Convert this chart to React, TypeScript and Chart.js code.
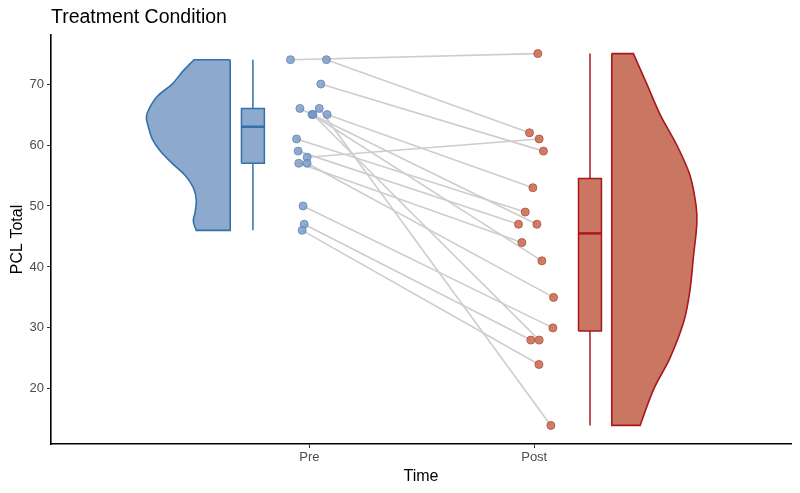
import React, { useEffect, useRef } from "react";
import { Chart, registerables } from "chart.js";

Chart.register(...registerables);

const FONT = '"Liberation Sans", Arial, Helvetica, sans-serif';

// Axis labels
const timeLabels = ["Pre", "Post"];
const timePositions = [1, 2];
const yTickValues = [20, 30, 40, 50, 60, 70];

// Paired scores (participant i: pre -> post)
const preScores = [74, 74, 70, 66, 66, 65, 65, 65, 61, 59, 58, 57, 57, 50, 47, 46];
const postScores = [75, 62, 59, 47, 14, 41, 28, 53, 49, 47, 61, 44, 35, 30, 28, 24];
// Jittered horizontal positions of each point
const preJitter = [0.916, 1.076, 1.051, 0.958, 1.044, 1.012, 1.016, 1.079, 0.943, 0.95, 0.99, 0.953, 0.99, 0.972, 0.977, 0.968];
const postJitter = [2.016, 1.979, 2.041, 2.012, 2.074, 2.034, 2.022, 1.994, 1.96, 1.93, 2.022, 1.945, 2.086, 2.083, 1.985, 2.021];

// Half-violin outlines (density width at each score level, in x units)
const preViolinLevels = [74, 72, 70, 68, 66, 64.5, 63, 61, 59, 57, 55, 53, 51, 49, 47.5, 46];
const preViolinWidths = [0.161, 0.213, 0.258, 0.324, 0.36, 0.373, 0.364, 0.347, 0.311, 0.258, 0.2, 0.164, 0.151, 0.156, 0.164, 0.151];
const postViolinLevels = [75, 70, 65, 60, 55, 50, 47, 42, 36, 31, 25, 20, 14];
const postViolinWidths = [0.096, 0.156, 0.215, 0.289, 0.348, 0.375, 0.378, 0.364, 0.347, 0.32, 0.258, 0.187, 0.126];

// Element placement (x units)
const preViolinBase = 0.648;
const postViolinBase = 2.345;
const preBoxCenter = 0.749;
const postBoxCenter = 2.248;
const boxHalfWidth = 0.051;

const PRE_FILL = "#8DA9CE";
const PRE_LINE = "#3471A8";
const PRE_POINT = "rgba(118,151,197,0.8)";
const POST_FILL = "#C97663";
const POST_LINE = "#A8181E";
const POST_POINT = "rgba(201,102,78,0.85)";

function quantile(s: number[], p: number) {
  const pos = (s.length - 1) * p;
  const lo = Math.floor(pos);
  const hi = Math.ceil(pos);
  return s[lo] + (s[hi] - s[lo]) * (pos - lo);
}

function boxStats(values: number[]) {
  const s = [...values].sort((a, b) => a - b);
  const q1 = quantile(s, 0.25);
  const med = quantile(s, 0.5);
  const q3 = quantile(s, 0.75);
  const iqr = q3 - q1;
  const lo = s.find((v) => v >= q1 - 1.5 * iqr) as number;
  const hi = [...s].reverse().find((v) => v <= q3 + 1.5 * iqr) as number;
  return { lo, q1, med, q3, hi };
}

function violinShape(base: number, dir: number, levels: number[], widths: number[]) {
  const pts: { x: number; y: number }[] = [];
  pts.push({ x: base, y: levels[0] });
  levels.forEach((lv, i) => {
    const p = { x: base + dir * widths[i], y: lv };
    pts.push(p);
    if (i === 0 || i === levels.length - 1) pts.push({ ...p });
  });
  const last = levels[levels.length - 1];
  pts.push({ x: base, y: last });
  pts.push({ x: base, y: last });
  pts.push({ x: base, y: levels[0] });
  return pts;
}

function boxDatasets(values: number[], cx: number, fill: string, stroke: string) {
  const b = boxStats(values);
  return [
    {
      type: "line" as const,
      data: [
        { x: cx, y: b.lo },
        { x: cx, y: b.hi },
      ],
      borderColor: stroke,
      borderWidth: 1.5,
      pointRadius: 0,
      fill: false,
      order: 3,
    },
    {
      type: "line" as const,
      data: [
        { x: cx - boxHalfWidth, y: b.q1 },
        { x: cx + boxHalfWidth, y: b.q1 },
        { x: cx + boxHalfWidth, y: b.q3 },
        { x: cx - boxHalfWidth, y: b.q3 },
        { x: cx - boxHalfWidth, y: b.q1 },
      ],
      borderColor: stroke,
      backgroundColor: fill,
      borderWidth: 1.5,
      pointRadius: 0,
      fill: "shape",
      tension: 0,
      order: 2,
    },
    {
      type: "line" as const,
      data: [
        { x: cx - boxHalfWidth, y: b.med },
        { x: cx + boxHalfWidth, y: b.med },
      ],
      borderColor: stroke,
      borderWidth: 2.5,
      pointRadius: 0,
      fill: false,
      order: 1,
    },
  ];
}

export default function App() {
  const ref = useRef<HTMLCanvasElement | null>(null);

  useEffect(() => {
    if (!ref.current) return;

    const pairLines = preScores.map((v, i) => ({
      type: "line" as const,
      data: [
        { x: preJitter[i], y: v },
        { x: postJitter[i], y: postScores[i] },
      ],
      borderColor: "#CDCDCD",
      borderWidth: 1.6,
      pointRadius: 0,
      fill: false,
      order: 10,
    }));

    const datasets: any[] = [
      ...pairLines,
      {
        type: "line",
        data: violinShape(preViolinBase, -1, preViolinLevels, preViolinWidths),
        borderColor: PRE_LINE,
        backgroundColor: PRE_FILL,
        borderWidth: 1.6,
        pointRadius: 0,
        fill: "shape",
        tension: 0.35,
        order: 4,
      },
      {
        type: "line",
        data: violinShape(postViolinBase, 1, postViolinLevels, postViolinWidths),
        borderColor: POST_LINE,
        backgroundColor: POST_FILL,
        borderWidth: 1.6,
        pointRadius: 0,
        fill: "shape",
        tension: 0.35,
        order: 4,
      },
      ...boxDatasets(preScores, preBoxCenter, PRE_FILL, PRE_LINE),
      ...boxDatasets(postScores, postBoxCenter, POST_FILL, POST_LINE),
      {
        type: "scatter",
        data: preScores.map((v, i) => ({ x: preJitter[i], y: v })),
        backgroundColor: PRE_POINT,
        borderColor: "rgba(100,135,185,0.85)",
        borderWidth: 1,
        pointRadius: 4,
        order: 0,
      },
      {
        type: "scatter",
        data: postScores.map((v, i) => ({ x: postJitter[i], y: v })),
        backgroundColor: POST_POINT,
        borderColor: "rgba(180,85,62,0.9)",
        borderWidth: 1,
        pointRadius: 4,
        order: 0,
      },
    ];

    const chart = new Chart(ref.current, {
      type: "scatter",
      data: { datasets },
      options: {
        responsive: false,
        animation: false,
        layout: { padding: { top: 0, right: 9, bottom: 0, left: 0 } },
        plugins: {
          legend: { display: false },
          tooltip: { enabled: false },
          title: {
            display: true,
            text: "Treatment Condition",
            align: "start",
            fullSize: false,
            color: "#000",
            font: { family: FONT, size: 19.5, weight: "normal" },
            padding: { top: 5.5, bottom: 6.1 },
          },
        },
        scales: {
          x: {
            type: "linear",
            min: -0.149,
            max: 3.142,
            afterBuildTicks: (s: any) => {
              s.ticks = timePositions.map((v) => ({ value: v }));
            },
            afterFit: (s: any) => {
              s.height = 49;
            },
            ticks: {
              color: "#4D4D4D",
              font: { family: FONT, size: 13 },
              padding: 2,
              maxRotation: 0,
              callback: (v: any) => {
                const i = timePositions.indexOf(Number(v));
                return i >= 0 ? timeLabels[i] : "";
              },
            },
            grid: { drawOnChartArea: false, drawTicks: true, tickLength: 4, tickColor: "#333", tickWidth: 1 },
            border: { display: true, color: "#000", width: 1.6 },
            title: {
              display: true,
              text: "Time",
              color: "#000",
              font: { family: FONT, size: 16 },
              padding: { top: 0, bottom: 6.6 },
            },
          },
          y: {
            type: "linear",
            min: 10.95,
            max: 78.05,
            afterBuildTicks: (s: any) => {
              s.ticks = yTickValues.map((v) => ({ value: v }));
            },
            afterFit: (s: any) => {
              s.width = 51;
            },
            ticks: {
              color: "#4D4D4D",
              font: { family: FONT, size: 13 },
              padding: 3,
            },
            grid: { drawOnChartArea: false, drawTicks: true, tickLength: 4, tickColor: "#333", tickWidth: 1 },
            border: { display: true, color: "#000", width: 1.6 },
            title: {
              display: true,
              text: "PCL Total",
              color: "#000",
              font: { family: FONT, size: 16 },
              padding: { top: 8.2, bottom: 0 },
            },
          },
        },
      },
    });

    return () => chart.destroy();
  }, []);

  return (
    <div style={{ position: "absolute", left: 0, top: 0, width: 800, height: 493, background: "#fff" }}>
      <canvas ref={ref} width={800} height={493} style={{ width: 800, height: 493, display: "block" }} />
    </div>
  );
}
